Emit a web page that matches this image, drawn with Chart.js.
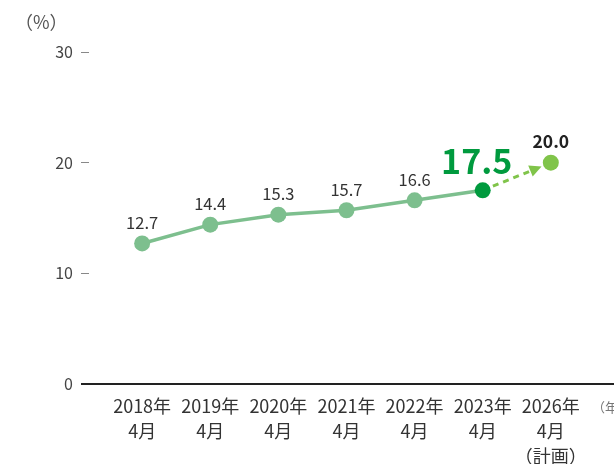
<!DOCTYPE html>
<html>
<head>
<meta charset="utf-8">
<script src="https://cdn.jsdelivr.net/npm/chart.js@4/dist/chart.umd.min.js"></script>
<style>
  html, body { margin: 0; padding: 0; background: #fff; }
  #wrap { width: 614px; height: 464px; }
</style>
</head>
<body>
<div id="wrap"><canvas id="ratio"></canvas></div>
<script>
// 年度ラベル（各行を配列で）
const periods = [
  ["2018年", "4月"],
  ["2019年", "4月"],
  ["2020年", "4月"],
  ["2021年", "4月"],
  ["2022年", "4月"],
  ["2023年", "4月"],
  ["2026年", "4月", "（計画）"],
];
const actual = [12.7, 14.4, 15.3, 15.7, 16.6, 17.5];
const target = 20.0;
const yTicks = [0, 10, 20, 30];

const FONT = "'Noto Sans CJK JP', 'Noto Sans', sans-serif";
const LINE = "#7dbf8e";
const DARK = "#009a3e";
const PLAN = "#80c44a";

const actualPts = actual.map((v, i) => ({ x: i, y: v }));
const planPts = [{ x: actual.length - 1, y: actual[actual.length - 1] }, { x: actual.length, y: target }];

const overlay = {
  id: "overlay",
  afterDatasetsDraw(chart) {
    const { ctx, scales: { x, y }, width } = chart;
    ctx.save();

    // 0 の基準線
    const y0 = y.getPixelForValue(0);
    ctx.strokeStyle = "#222";
    ctx.lineWidth = 2;
    ctx.beginPath();
    ctx.moveTo(81, y0);
    ctx.lineTo(width, y0);
    ctx.stroke();

    // 計画への点線矢印
    const ax = x.getPixelForValue(planPts[0].x), ay = y.getPixelForValue(planPts[0].y);
    const bx = x.getPixelForValue(planPts[1].x), by = y.getPixelForValue(planPts[1].y);
    const ang = Math.atan2(by - ay, bx - ax);
    const len = Math.hypot(bx - ax, by - ay);
    const sx = ax + Math.cos(ang) * 11, sy = ay + Math.sin(ang) * 11;
    const tip = len - 10;
    const tx = ax + Math.cos(ang) * tip, ty = ay + Math.sin(ang) * tip;
    const base = tip - 12;
    const bxp = ax + Math.cos(ang) * base, byp = ay + Math.sin(ang) * base;
    ctx.strokeStyle = PLAN;
    ctx.lineWidth = 3;
    ctx.setLineDash([6, 5]);
    ctx.beginPath();
    ctx.moveTo(sx, sy);
    ctx.lineTo(bxp, byp);
    ctx.stroke();
    ctx.setLineDash([]);
    ctx.fillStyle = PLAN;
    ctx.beginPath();
    ctx.moveTo(tx, ty);
    ctx.lineTo(bxp + Math.cos(ang + Math.PI / 2) * 6, byp + Math.sin(ang + Math.PI / 2) * 6);
    ctx.lineTo(bxp + Math.cos(ang - Math.PI / 2) * 6, byp + Math.sin(ang - Math.PI / 2) * 6);
    ctx.closePath();
    ctx.fill();

    // 計画ポイント
    ctx.fillStyle = PLAN;
    ctx.beginPath();
    ctx.arc(bx, by, 8, 0, Math.PI * 2);
    ctx.fill();

    // 値ラベル
    ctx.textAlign = "center";
    ctx.textBaseline = "middle";
    actual.forEach((v, i) => {
      const px = x.getPixelForValue(i), py = y.getPixelForValue(v);
      if (i === actual.length - 1) {
        ctx.font = "bold 34px " + FONT;
        ctx.fillStyle = DARK;
        ctx.fillText(v.toFixed(1), px - 6, py - 29);
      } else {
        ctx.font = "16.5px " + FONT;
        ctx.fillStyle = "#333";
        ctx.fillText(v.toFixed(1), px, py - 21);
      }
    });
    ctx.font = "bold 17.5px " + FONT;
    ctx.fillStyle = "#222";
    ctx.fillText(target.toFixed(1), bx, by - 21);

    // 単位
    ctx.font = "18px " + FONT;
    ctx.fillStyle = "#555";
    ctx.textAlign = "left";
    ctx.fillText("（%）", 15, 22);
    ctx.font = "13px " + FONT;
    ctx.fillStyle = "#777";
    ctx.fillText("（年", 592, 407);
    ctx.restore();
  }
};

new Chart(document.getElementById("ratio"), {
  type: "line",
  data: {
    datasets: [
      {
        data: actualPts,
        borderColor: LINE,
        borderWidth: 3.5,
        pointRadius: 8,
        pointHoverRadius: 8,
        pointBorderWidth: 0,
        pointBackgroundColor: actual.map((v, i) => (i === actual.length - 1 ? DARK : LINE)),
        tension: 0,
      },
    ],
  },
  options: {
    responsive: true,
    maintainAspectRatio: false,
    animation: false,
    events: [],
    layout: { padding: { top: 52, left: 0, right: 0, bottom: 0 } },
    plugins: { legend: { display: false }, tooltip: { enabled: false } },
    scales: {
      x: {
        type: "linear",
        min: -0.78,
        max: 6.81,
        afterFit: (s) => { s.height = 80; },
        afterBuildTicks: (s) => { s.ticks = periods.map((p, i) => ({ value: i })); },
        grid: { display: false },
        border: { display: false },
        ticks: {
          autoSkip: false,
          maxRotation: 0,
          padding: 2,
          color: "#333",
          font: { family: FONT, size: 18, lineHeight: 1.39 },
          callback: (v) => periods[v],
        },
      },
      y: {
        min: 0,
        max: 30,
        afterFit: (s) => { s.width = 89; },
        afterBuildTicks: (s) => { s.ticks = yTicks.map((v) => ({ value: v })); },
        grid: { drawOnChartArea: false, drawTicks: true, tickLength: 8, tickColor: "#888", tickWidth: 1 },
        border: { display: false },
        ticks: {
          padding: 8,
          color: "#444",
          font: { family: FONT, size: 16 },
        },
      },
    },
  },
  plugins: [overlay],
});
</script>
</body>
</html>
